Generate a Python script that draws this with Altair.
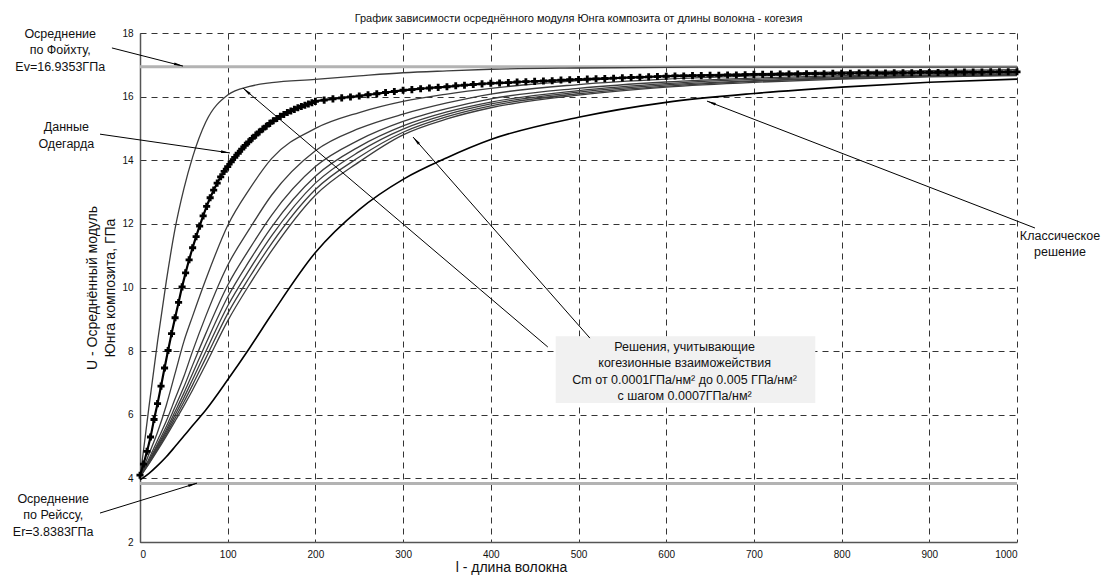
import math
import altair as alt
import pandas as pd

FONT = "Liberation Sans"
W, H = 877, 509
X_MIN, X_MAX, Y_MIN, Y_MAX = 0, 1000, 2, 18

# ---------------- data ----------------
X_GRID = [0, 10, 20, 30, 40, 50, 60, 75, 100, 125, 150, 200, 250, 300, 350, 400, 500, 600, 700, 800, 900, 1000]

CURVE_C1 = [4.00, 6.20, 8.30, 10.20, 11.85, 13.10, 14.10, 15.20, 16.05, 16.32, 16.44, 16.54, 16.65, 16.75, 16.81, 16.86, 16.90, 16.92, 16.93, 16.93, 16.93, 16.93]
CURVE_C2 = [4.05, 4.75, 5.45, 6.30, 7.30, 8.30, 9.10, 10.25, 11.95, 13.10, 14.05, 15.00, 15.50, 15.85, 16.08, 16.26, 16.50, 16.65, 16.72, 16.78, 16.82, 16.85]
CURVE_C3 = [4.05, 4.60, 5.20, 5.80, 6.50, 7.20, 8.00, 9.10, 10.70, 11.85, 12.90, 14.30, 15.00, 15.45, 15.80, 16.08, 16.38, 16.55, 16.65, 16.72, 16.77, 16.80]
CURVE_C4 = [4.05, 4.55, 5.08, 5.63, 6.25, 6.87, 7.56, 8.55, 10.07, 11.22, 12.27, 13.80, 14.64, 15.22, 15.62, 15.93, 16.26, 16.46, 16.58, 16.66, 16.72, 16.75]
CURVE_C5 = [4.05, 4.51, 5.02, 5.53, 6.10, 6.68, 7.30, 8.23, 9.70, 10.85, 11.90, 13.50, 14.43, 15.08, 15.52, 15.83, 16.19, 16.41, 16.54, 16.62, 16.68, 16.72]
CURVE_C6 = [4.05, 4.49, 4.97, 5.46, 5.99, 6.53, 7.11, 7.99, 9.42, 10.57, 11.62, 13.28, 14.27, 14.98, 15.44, 15.77, 16.14, 16.37, 16.50, 16.60, 16.66, 16.70]
CURVE_C7 = [4.05, 4.47, 4.92, 5.39, 5.89, 6.40, 6.94, 7.78, 9.18, 10.33, 11.38, 13.08, 14.10, 14.88, 15.37, 15.71, 16.09, 16.33, 16.48, 16.57, 16.64, 16.68]
CURVE_C8 = [4.05, 4.45, 4.88, 5.33, 5.80, 6.28, 6.78, 7.58, 8.95, 10.10, 11.15, 12.90, 13.95, 14.80, 15.30, 15.65, 16.05, 16.30, 16.45, 16.55, 16.62, 16.66]
CLASSIC = [3.95, 4.15, 4.40, 4.68, 5.00, 5.33, 5.66, 6.15, 7.10, 8.10, 9.15, 11.10, 12.45, 13.40, 14.08, 14.65, 15.35, 15.82, 16.10, 16.30, 16.45, 16.55]

ODEGAARD_X = list(range(0, 201, 4)) + list(range(210, 1001, 10))
ODEGAARD_Y = [
    4.10, 4.45, 4.85, 5.30, 5.85, 6.35, 6.90, 7.47, 8.02, 8.55,
    9.05, 9.53, 10.02, 10.46, 10.87, 11.25, 11.60, 11.93, 12.25, 12.55,
    12.82, 13.06, 13.28, 13.48, 13.65, 13.80, 13.95, 14.09, 14.22, 14.35,
    14.47, 14.58, 14.69, 14.79, 14.89, 14.98, 15.07, 15.16, 15.24, 15.31,
    15.38, 15.44, 15.50, 15.55, 15.60, 15.65, 15.69, 15.73, 15.77, 15.81,
    15.85,
    15.89, 15.93, 15.96, 15.99, 16.02, 16.06, 16.09, 16.13, 16.16, 16.20,
    16.22, 16.25, 16.27, 16.29, 16.31, 16.34, 16.36, 16.38, 16.40, 16.42,
    16.43, 16.44, 16.46, 16.47, 16.48, 16.49, 16.50, 16.52, 16.53, 16.54,
    16.55, 16.56, 16.57, 16.58, 16.59, 16.60, 16.61, 16.62, 16.63, 16.64,
    16.65, 16.65, 16.66, 16.66, 16.67, 16.67, 16.68, 16.68, 16.69, 16.70,
    16.70, 16.70, 16.71, 16.71, 16.71, 16.72, 16.72, 16.72, 16.73, 16.73,
    16.73, 16.74, 16.74, 16.74, 16.74, 16.75, 16.75, 16.75, 16.76, 16.76,
    16.76, 16.76, 16.77, 16.77, 16.77, 16.77, 16.78, 16.78, 16.78, 16.78,
]

E_VOIGT = 16.9353
E_REUSS = 3.8383

TITLE = "График зависимости осреднённого модуля Юнга композита от длины волокна - когезия"
X_TITLE = "l - длина волокна"
Y_TITLE = ["U - Осреднённый модуль", "Юнга композита, ГПа"]

# text, x, y of the first line (data coords)
LABELS = [
    ("Осреднение\nпо Фойхту,\nEv=16.9353ГПа", -91.0, 17.98),
    ("Данные\nОдегарда", -84.0, 15.04),
    ("Осреднение\nпо Рейссу,\nEr=3.8383ГПа", -99.0, 3.36),
    ("Классическое\nрешение", 1049.0, 11.62),
    ("Решения, учитывающие\nкогезионные взаиможействия\nCm от 0.0001ГПа/нм² до 0.005 ГПа/нм²\nс шагом 0.0007ГПа/нм²", 621.0, 8.13),
]
# box behind the cohesive-solution note (data coords)
NOTE_BOX = (474.0, 770.0, 6.37, 8.47)

# arrows: start (x, y) -> tip (x, y), data coords
ARROWS = [
    (-32.0, 17.53, 49.0, 16.96),
    (-45.6, 14.82, 102.6, 14.23),
    (-45.6, 2.91, 65.0, 3.85),
    (465.0, 8.13, 117.4, 16.27),
    (513.0, 8.41, 311.3, 14.73),
    (1020.5, 11.87, 646.5, 15.86),
]

# ---------------- tables ----------------
curve_rows = []
for name, vals in [("c1", CURVE_C1), ("c2", CURVE_C2), ("c3", CURVE_C3), ("c4", CURVE_C4),
                   ("c5", CURVE_C5), ("c6", CURVE_C6), ("c7", CURVE_C7), ("c8", CURVE_C8)]:
    for i, (x, y) in enumerate(zip(X_GRID, vals)):
        curve_rows.append({"series": name, "x": x, "y": y, "o": i})
curves_df = pd.DataFrame(curve_rows)
classic_df = pd.DataFrame({"x": X_GRID, "y": CLASSIC, "o": range(len(X_GRID))})
ode_df = pd.DataFrame({"x": ODEGAARD_X, "y": ODEGAARD_Y, "o": range(len(ODEGAARD_X))})
ref_df = pd.DataFrame({"x": [X_MIN, X_MIN], "x2": [X_MAX, X_MAX], "y": [E_VOIGT, E_REUSS]})
label_df = pd.DataFrame([{"text": t, "x": x, "y": y} for t, x, y in LABELS])
box_df = pd.DataFrame([{"x": NOTE_BOX[0], "x2": NOTE_BOX[1], "y": NOTE_BOX[2], "y2": NOTE_BOX[3]}])

sx = W / (X_MAX - X_MIN)
sy = H / (Y_MAX - Y_MIN)
arrow_rows, head_rows = [], []
for x1, y1, x2, y2 in ARROWS:
    arrow_rows.append({"x": x1, "y": y1, "x2": x2, "y2": y2})
    dxp = (x2 - x1) * sx
    dyp = -(y2 - y1) * sy
    L = math.hypot(dxp, dyp)
    ux, uy = dxp / L, dyp / L
    ang = math.degrees(math.atan2(ux, -uy)) % 360
    back = 6.0
    head_rows.append({"x": x2 - back * ux / sx, "y": y2 + back * uy / sy, "ang": ang})
arrow_df = pd.DataFrame(arrow_rows)
head_df = pd.DataFrame(head_rows)

# ---------------- encodings ----------------
xs = alt.Scale(domain=[X_MIN, X_MAX], nice=False, zero=False)
ys = alt.Scale(domain=[Y_MIN, Y_MAX], nice=False, zero=False)
x_axis = alt.Axis(values=list(range(0, 1001, 100)), format="d", title=X_TITLE, grid=True,
                  titleX=371, titleY=25, titleAlign="center", titleBaseline="middle")
y_axis = alt.Axis(values=list(range(2, 19, 2)), format="d", title=Y_TITLE, grid=True,
                  titleX=-48, titleY=H / 2, titleAngle=270, titleAlign="center",
                  titleBaseline="middle", titleLineHeight=18)


def X(f="x"):
    return alt.X(f, type="quantitative", scale=xs, axis=x_axis)


def Y(f="y"):
    return alt.Y(f, type="quantitative", scale=ys, axis=y_axis)


box = alt.Chart(box_df).mark_rect(color="#f1f1f1").encode(
    x=X(), x2="x2", y=Y(), y2="y2")

refs = alt.Chart(ref_df).mark_rule(color="#b3b3b3", strokeWidth=3).encode(
    x=X(), x2="x2", y=Y())

family = alt.Chart(curves_df).mark_line(color="#3c3c3c", strokeWidth=1.3, interpolate="monotone").encode(
    x=X(), y=Y(), detail="series:N", order="o:Q")

classic = alt.Chart(classic_df).mark_line(color="#000000", strokeWidth=1.6, interpolate="monotone").encode(
    x=X(), y=Y(), order="o:Q")

ode_line = alt.Chart(ode_df).mark_line(color="#000000", strokeWidth=2.2, interpolate="monotone").encode(
    x=X(), y=Y(), order="o:Q")
ode_pts = alt.Chart(ode_df).mark_point(shape="cross", filled=True, color="#000000", size=50, opacity=1).encode(
    x=X(), y=Y())

arrows = alt.Chart(arrow_df).mark_rule(color="#000000", strokeWidth=1).encode(
    x=X(), y=Y(), x2="x2", y2="y2")
heads = alt.Chart(head_df).mark_point(shape="wedge", filled=True, color="#000000", size=110, opacity=1).encode(
    x=X(), y=Y(), angle=alt.Angle("ang:Q", scale=None))

labels = alt.Chart(label_df).mark_text(font=FONT, fontSize=12.5, color="#111111", lineBreak="\n",
                                       lineHeight=16.5, align="center", baseline="middle").encode(
    x=X(), y=Y(), text="text:N")

chart = alt.layer(box, refs, family, classic, ode_line, ode_pts, arrows, heads, labels).properties(
    width=W, height=H,
    title=alt.TitleParams(TITLE, font=FONT, fontSize=11, fontWeight="normal", color="#111111",
                          anchor="middle", offset=4),
    autosize=alt.AutoSizeParams(type="none"),
    padding={"left": 132, "top": 25, "right": 90, "bottom": 35},
).configure_view(stroke=None).configure_axis(
    labelFont=FONT, labelFontSize=10, labelColor="#111111",
    titleFont=FONT, titleFontSize=14, titleFontWeight="normal", titleColor="#111111",
    gridColor="#111111", gridDash=[6, 5], gridWidth=1, gridOpacity=0.85,
    domainColor="#555555", domainWidth=1.5,
    tickSize=0, labelPadding=7,
)

chart.save("out.html", embed_options={"renderer": "svg", "actions": False})
